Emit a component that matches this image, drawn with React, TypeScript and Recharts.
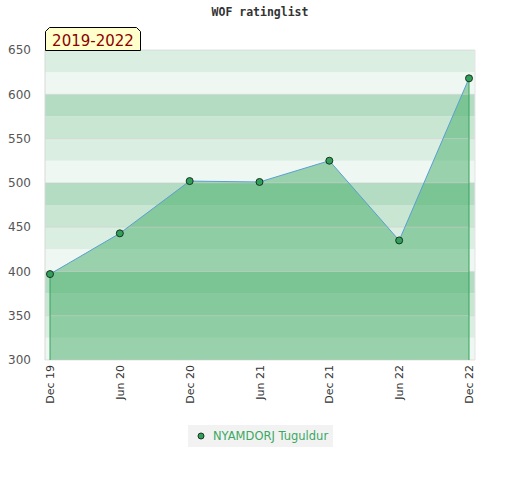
import React from 'react';
import { ComposedChart, Area, Line, XAxis, YAxis, ReferenceArea, ReferenceLine } from 'recharts';

// rating snapshots, half-year steps
const dates = ['Dec 19', 'Jun 20', 'Dec 20', 'Jun 21', 'Dec 21', 'Jun 22', 'Dec 22'];
const ratings = [397, 443, 502, 501, 525, 435, 618];

const yTicks = [300, 350, 400, 450, 500, 550, 600, 650];
const rightTicks = [
  300, 310, 320, 330, 340, 350, 360, 370, 380, 390, 400, 410, 420, 430, 440, 450, 460, 470,
  480, 490, 500, 510, 520, 530, 540, 550, 560, 570, 580, 590, 600, 610, 620, 630, 640, 650,
];
const bandEdges = [300, 325, 350, 375, 400, 425, 450, 475, 500, 525, 550, 575, 600, 625, 650];

const BAND_COLORS = ['#eff7f2', '#dbeee2', '#c8e6d2', '#b3dcc2'];

const data = dates.map((d, i) => ({ date: d, rating: ratings[i] }));

const XTick = (props: any) => {
  const { x, payload } = props;
  return (
    <text
      transform={`translate(${x + 4},365) rotate(-90)`}
      textAnchor="end"
      fontSize={11}
      fontFamily="DejaVu Sans"
      fill="#333"
    >
      {payload.value}
    </text>
  );
};

const RightTick = (props: any) => {
  const { x, y, payload } = props;
  if (payload.value % 50 === 0) {
    return (
      <text x={x + 8} y={y + 4} fontSize={12} fontFamily="DejaVu Sans" fill="#222">
        {payload.value}
      </text>
    );
  }
  return <line x1={x - 4} x2={x - 1} y1={y + 0.5} y2={y + 0.5} stroke="#111" />;
};

const App = () => {
  const last = dates.length - 1;
  return (
    <div style={{ position: 'absolute', left: 0, top: 0, width: 520, height: 480, background: '#fff' }}>
      <div
        style={{
          position: 'absolute', left: 0, top: 5, width: 520, textAlign: 'center',
          fontFamily: 'DejaVu Sans Mono', fontWeight: 'bold', fontSize: 11.5, color: '#333',
        }}
      >
        WOF ratinglist
      </div>
      <ComposedChart width={520} height={480} data={data} margin={{ top: 50, right: 0, bottom: 60, left: 0 }}>
        {/* hidden index axis without padding, so the stripes cover the whole plot box */}
        <XAxis xAxisId="full" type="number" domain={[0, last]} hide />
        {bandEdges.slice(0, -1).map((b, i) => (
          <ReferenceArea
            key={b}
            xAxisId="full"
            yAxisId="left"
            x1={0}
            x2={last}
            y1={b}
            y2={bandEdges[i + 1]}
            fill={BAND_COLORS[i % 4]}
            fillOpacity={1}
            stroke="none"
          />
        ))}
        {yTicks.map((t) => (
          <ReferenceLine key={t} xAxisId="full" yAxisId="left" y={t} stroke="#cccccc" strokeOpacity={0.55} />
        ))}
        <XAxis
          dataKey="date"
          scale="point"
          padding={{ left: 5, right: 6 }}
          height={60}
          tick={<XTick />}
          tickLine={false}
          axisLine={false}
          interval={0}
        />
        <YAxis
          yAxisId="left"
          width={45}
          domain={[300, 650]}
          ticks={yTicks}
          tickLine={false}
          axisLine={{ stroke: '#d8d8d8' }}
          tick={{ fontSize: 12, fontFamily: 'DejaVu Sans', fill: '#555' }}
          tickMargin={8}
        />
        <YAxis
          yAxisId="right"
          orientation="right"
          width={45}
          domain={[300, 650]}
          ticks={rightTicks}
          interval={0}
          tickLine={false}
          tickSize={0}
          tickMargin={0}
          axisLine={{ stroke: '#e4e4e4' }}
          tick={<RightTick />}
        />
        <Area
          yAxisId="left"
          dataKey="rating"
          type="linear"
          fill="#43ab66"
          fillOpacity={0.5}
          stroke="none"
          baseValue={300}
          isAnimationActive={false}
        />
        <ReferenceLine
          yAxisId="left"
          segment={[{ x: dates[0], y: 300 }, { x: dates[0], y: ratings[0] }]}
          stroke="#35a35c"
        />
        <ReferenceLine
          yAxisId="left"
          segment={[{ x: dates[last], y: 300 }, { x: dates[last], y: ratings[last] }]}
          stroke="#35a35c"
        />
        <Line
          yAxisId="left"
          dataKey="rating"
          type="linear"
          stroke="#5a9fd4"
          strokeWidth={1}
          dot={{ r: 3.5, fill: '#30a05a', stroke: '#1c3322', strokeWidth: 1 }}
          activeDot={false}
          isAnimationActive={false}
        />
      </ComposedChart>
      <svg style={{ position: 'absolute', left: 0, top: 0 }} width={160} height={60}>
        <polygon
          points="45.5,50.5 45.5,31.5 49.5,27.5 136.5,27.5 140.5,31.5 140.5,50.5"
          fill="#ffffcc"
          stroke="#000"
        />
        <text x={93} y={45.5} textAnchor="middle" fontSize={15} fontFamily="DejaVu Sans" fill="#8b0000">
          2019-2022
        </text>
      </svg>
      <div
        style={{
          position: 'absolute', left: 188, top: 425, width: 145, height: 22, background: '#f2f2f2',
          display: 'flex', alignItems: 'center', fontFamily: 'DejaVu Sans', fontSize: 11.5, color: '#3aa863',
        }}
      >
        <svg width={25} height={22}>
          <circle cx={13} cy={11} r={3} fill="#30a05a" stroke="#1c3322" />
        </svg>
        NYAMDORJ Tuguldur
      </div>
    </div>
  );
};

export default App;
